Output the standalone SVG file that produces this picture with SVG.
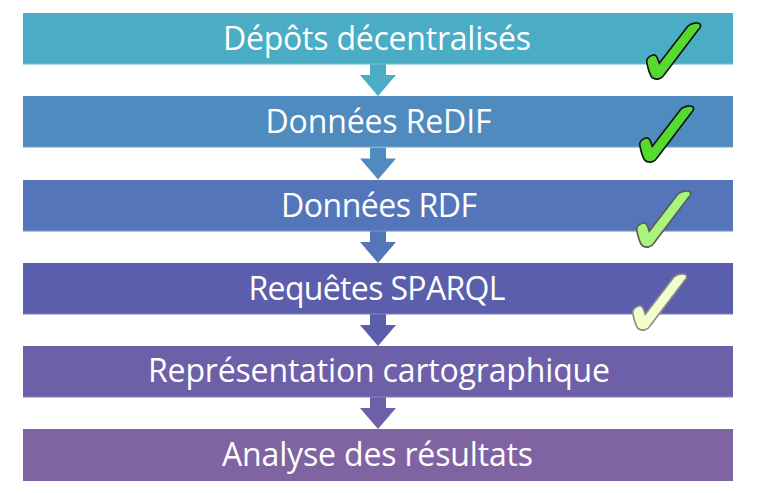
<svg xmlns="http://www.w3.org/2000/svg" width="759" height="493" viewBox="0 0 759 493">
<defs>
<style>
.lbl{font-family:"Open Sans","Noto Sans","Liberation Sans",sans-serif;font-size:32px;fill:#ffffff;text-anchor:middle}
.edge{fill:#ffffff;opacity:0.25}
</style>
<path id="chk" d="M13.3,41.3 L42,4 C45,1 52,0 54,2 C55.5,4 54,6 52.5,7.5 L18,53 C16,57 10,58.5 6,55.5 C4,53 1.5,44 0.8,40.5 C0,37 3,34 7,33 C10,32 11.5,35.5 13.3,41.3 Z"/>
<path id="arr" d="M-8,0 H8 V11 H18 L0,32 L-18,11 H-8 Z"/>
</defs>
<rect width="759" height="493" fill="#ffffff"/>
<g id="connectors">
<use href="#arr" x="378" y="64" fill="#4BACC6"/>
<use href="#arr" x="378" y="147.5" fill="#4F8BBF"/>
<use href="#arr" x="378" y="231" fill="#5575BB"/>
<use href="#arr" x="378" y="314" fill="#5A5EAC"/>
<use href="#arr" x="378" y="397" fill="#6D60A8"/>
</g>
<g id="n1">
<rect x="23" y="13" width="710" height="51.5" fill="#4BACC6"/>
<rect class="edge" x="23" y="63.5" width="710" height="1"/>
<text class="lbl" x="377" y="50" textLength="308">Dépôts décentralisés</text>
</g>
<g id="n2">
<rect x="23" y="96" width="710" height="51.5" fill="#4F8BBF"/>
<rect class="edge" x="23" y="146.5" width="710" height="1"/>
<text class="lbl" x="378.5" y="133" textLength="226">Données ReDIF</text>
</g>
<g id="n3">
<rect x="23" y="180" width="710" height="51.5" fill="#5575BB"/>
<rect class="edge" x="23" y="230.5" width="710" height="1"/>
<text class="lbl" x="379" y="217" textLength="196">Données RDF</text>
</g>
<g id="n4">
<rect x="23" y="263" width="710" height="51.5" fill="#5A5EAC"/>
<rect class="edge" x="23" y="313.5" width="710" height="1"/>
<text class="lbl" x="377" y="300" textLength="257">Requêtes SPARQL</text>
</g>
<g id="n5">
<rect x="23" y="346" width="710" height="51.5" fill="#6D60A8"/>
<rect class="edge" x="23" y="396.5" width="710" height="1"/>
<text class="lbl" x="379" y="382" textLength="462">Représentation cartographique</text>
</g>
<g id="n6">
<rect x="23" y="429" width="710" height="52" fill="#8064A2"/>
<text class="lbl" x="377.5" y="466" textLength="311">Analyse des résultats</text>
</g>
<g id="checks">
<use href="#chk" x="646" y="22" fill="#55DA30" stroke="#111111" stroke-width="1.6"/>
<use href="#chk" x="639" y="105" fill="#55DA30" stroke="#111111" stroke-width="1.6"/>
<use href="#chk" x="636" y="190" fill="#A8F57E" stroke="#5a5a5a" stroke-width="1.6"/>
<use href="#chk" x="632" y="273" fill="#F2FFCC" stroke="#8a8a8a" stroke-width="1.6"/>
</g>
</svg>
